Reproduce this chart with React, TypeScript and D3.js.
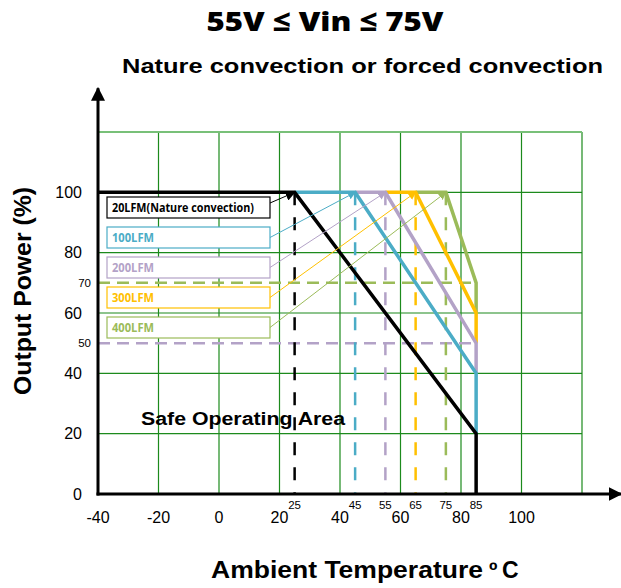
import { scaleLinear, line } from "d3";

const width = 621;
const height = 588;

// derating curves: [ambient °C, output %]
const curveNames = ["20LFM(Nature convection)", "100LFM", "200LFM", "300LFM", "400LFM"];
const curveColors = ["#000000", "#4bacc6", "#b3a2c7", "#ffc000", "#9bbb59"];
const curve20: [number, number][] = [[-40, 100], [25, 100], [85, 20], [85, 0]];
const curve100: [number, number][] = [[25, 100], [45, 100], [85, 40], [85, 20]];
const curve200: [number, number][] = [[45, 100], [55, 100], [85, 50], [85, 40]];
const curve300: [number, number][] = [[55, 100], [65, 100], [85, 60], [85, 50]];
const curve400: [number, number][] = [[65, 100], [75, 100], [85, 70], [85, 60]];
const curves = [curve20, curve100, curve200, curve300, curve400];

const xTicks = [-40, -20, 0, 20, 40, 60, 80, 100];
const xGrid = [-20, 0, 20, 40, 60, 80, 100, 120];
const yTicks = [0, 20, 40, 60, 80, 100];
const yGrid = [20, 40, 60, 80, 100, 120];
const breakTemps = [25, 45, 55, 65, 75, 85];
const dashedLevels = [70, 50];
const dashedLevelColors = ["#9bbb59", "#b3a2c7"];

const x = scaleLinear().domain([-40, 120]).range([98, 582]);
const y = scaleLinear().domain([0, 120]).range([494, 132]);

const pathOf = line<[number, number]>()
  .x((d) => x(d[0]))
  .y((d) => y(d[1]));

const gridColor = "#1c8a1c";
const legendLeft = 107;
const legendRight = 270;
const legendTop = 197;
const legendStep = 30;
const legendHeight = 21;

export default function App() {
  return (
    <svg
      width={width}
      height={height}
      viewBox={`0 0 ${width} ${height}`}
      style={{ position: "absolute", left: 0, top: 0, background: "white" }}
      fontFamily="'Liberation Sans', Arial, sans-serif"
    >
      <defs>
        {curveColors.map((c, i) => (
          <marker
            key={c}
            id={`arrow${i}`}
            viewBox="0 0 10 10"
            refX={9}
            refY={5}
            markerWidth={i === 0 ? 10 : 8}
            markerHeight={i === 0 ? 10 : 8}
            markerUnits="userSpaceOnUse"
            orient="auto"
          >
            <path d="M0,0 L10,5 L0,10 z" fill={c} />
          </marker>
        ))}
        <marker
          id="axisArrow"
          viewBox="0 0 10 10"
          refX={9}
          refY={5}
          markerWidth={14}
          markerHeight={14}
          markerUnits="userSpaceOnUse"
          orient="auto"
        >
          <path d="M0,0 L10,5 L0,10 z" fill="#000" />
        </marker>
      </defs>

      {/* titles */}
      <text x={325} y={31} textAnchor="middle" fontSize={27} fontWeight={800}
        fontFamily="'Open Sans', sans-serif" textLength={237} lengthAdjust="spacingAndGlyphs">
        55V ≤ Vin ≤ 75V
      </text>
      <text x={122} y={73} fontSize={21} fontWeight="bold"
        textLength={481} lengthAdjust="spacingAndGlyphs">
        Nature convection or forced convection
      </text>

      {/* grid */}
      {xGrid.map((t) => (
        <line key={`xg${t}`} x1={x(t)} x2={x(t)} y1={y(120)} y2={y(0)}
          stroke={gridColor} strokeWidth={1.2} />
      ))}
      {yGrid.map((t) => (
        <line key={`yg${t}`} x1={x(-40)} x2={x(120)} y1={y(t)} y2={y(t)}
          stroke={t === 120 ? "#78c078" : gridColor} strokeWidth={t === 120 ? 2 : 1.2} />
      ))}

      {/* dashed helper lines */}
      {dashedLevels.map((v, i) => (
        <line key={`hl${v}`} x1={x(-40)} x2={x(85)} y1={y(v)} y2={y(v)}
          stroke={dashedLevelColors[i]} strokeWidth={2.5} strokeDasharray="12 7" />
      ))}
      {breakTemps.slice(0, 5).map((t, i) => (
        <line key={`vl${t}`} x1={x(t)} x2={x(t)} y1={y(100)} y2={y(0)}
          stroke={curveColors[i]} strokeWidth={2.5} strokeDasharray="13 12" />
      ))}

      {/* derating curves */}
      {curves.map((c, i) => (
        <path key={curveNames[i]} d={pathOf(c) ?? ""} fill="none"
          stroke={curveColors[i]} strokeWidth={3.5} strokeLinejoin="miter" />
      )).reverse()}

      {/* axes */}
      <line x1={x(-40)} x2={x(-40)} y1={y(0) + 1.5} y2={y(134.5)} stroke="#000" strokeWidth={3}
        markerEnd="url(#axisArrow)" />
      <line x1={x(-40) - 1.5} x2={x(133)} y1={y(0)} y2={y(0)} stroke="#000" strokeWidth={3}
        markerEnd="url(#axisArrow)" />

      {/* tick labels */}
      {xTicks.map((t) => (
        <text key={`xt${t}`} x={x(t)} y={523} textAnchor="middle" fontSize={16}>{t}</text>
      ))}
      {breakTemps.map((t) => (
        <text key={`bt${t}`} x={x(t)} y={508.5} textAnchor="middle" fontSize={11.5}>{t}</text>
      ))}
      {yTicks.map((t) => (
        <text key={`yt${t}`} x={82} y={y(t)} dy="0.36em" textAnchor="end" fontSize={16}>{t}</text>
      ))}
      {dashedLevels.map((v) => (
        <text key={`lv${v}`} x={91} y={y(v)} dy="0.36em" textAnchor="end" fontSize={11.5}>{v}</text>
      ))}

      {/* legend boxes with arrows */}
      {curveNames.map((name, i) => {
        const top = legendTop + i * legendStep;
        const mid = top + legendHeight / 2;
        const target = curves[i][1];
        return (
          <g key={name}>
            <rect x={legendLeft} y={top} width={legendRight - legendLeft} height={legendHeight}
              fill="white" stroke={curveColors[i]} strokeWidth={1.2} />
            <text x={legendLeft + 5} y={mid} dy="0.36em" fontSize={13} fontWeight="bold"
              fontFamily="'Open Sans', sans-serif" fill={curveColors[i]}
              textLength={i === 0 ? 142 : 42} lengthAdjust="spacingAndGlyphs">
              {name}
            </text>
            <line x1={legendRight} y1={i === 0 ? top + 6 : mid} x2={x(target[0])} y2={y(target[1])}
              stroke={curveColors[i]} strokeWidth={1} markerEnd={`url(#arrow${i})`} />
          </g>
        );
      })}

      <text x={141} y={425} fontSize={18} fontWeight="bold"
        textLength={204} lengthAdjust="spacingAndGlyphs">Safe Operating Area</text>

      {/* axis titles */}
      <text transform="translate(31, 291) rotate(-90)" textAnchor="middle" fontSize={23} fontWeight="bold"
        textLength={208} lengthAdjust="spacingAndGlyphs">
        Output Power (%)
      </text>
      <text x={211} y={578} fontSize={23} fontWeight="bold"
        textLength={272} lengthAdjust="spacingAndGlyphs">
        Ambient Temperature
      </text>
      <text x={489} y={578} fontSize={23} fontWeight="bold">º</text>
      <text x={502} y={578} fontSize={23} fontWeight="bold">C</text>
    </svg>
  );
}
